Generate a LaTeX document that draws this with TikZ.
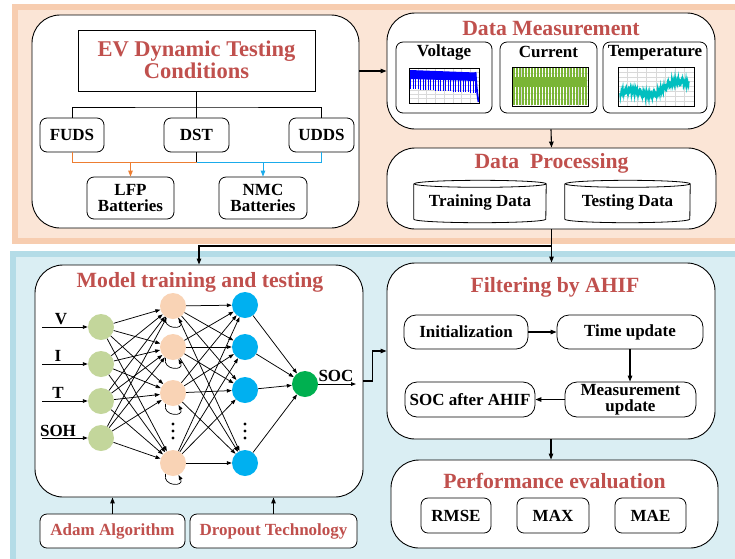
\documentclass[tikz,border=0pt]{standalone}
\usepackage{fontspec}
\setmainfont{Liberation Serif}
\usetikzlibrary{arrows.meta,calc}
\definecolor{titlered}{HTML}{C0504D}
\definecolor{peachfill}{HTML}{FBE5D6}
\definecolor{peachedge}{HTML}{F7CDB0}
\definecolor{bluefill}{HTML}{DAEEF3}
\definecolor{blueedge}{HTML}{B4DCE7}
\definecolor{lorange}{HTML}{ED7D31}
\definecolor{lblue}{HTML}{1AABEB}
\definecolor{ingreen}{HTML}{C3D69B}
\definecolor{hpeach}{HTML}{F9D3B5}
\definecolor{hblue}{HTML}{00B0F0}
\definecolor{outgreen}{HTML}{00B050}
\definecolor{vblue}{HTML}{0000FF}
\definecolor{cgreen}{HTML}{7AB535}
\definecolor{tcyan}{HTML}{00BFBF}
\newcommand\ttlfont{\fontsize{21.7}{22}\selectfont\bfseries}
\newcommand\lblfont{\fontsize{17}{16}\selectfont\bfseries}
\begin{document}
\begin{tikzpicture}[x=1pt,y=-1pt,
 bigbox/.style={draw, fill=white, rounded corners=28pt, line width=0.9pt, inner sep=0pt},
 sbox/.style={draw, fill=white, rounded corners=7pt, line width=0.8pt, inner sep=0pt, font=\lblfont, align=center},
 ttl/.style={font=\ttlfont, text=titlered, inner sep=0pt, align=center},
 lbl/.style={font=\lblfont, inner sep=0pt},
 arr/.style={-{Triangle[length=6pt,width=4.5pt]}, line width=1.1pt},
 nnarr/.style={-{Triangle[length=5pt,width=3.6pt]}, line width=0.75pt},
 neuron/.style={circle, inner sep=0pt, minimum size=26pt},
 plotframe/.style={draw=black, line width=0.8pt},
 gridline/.style={draw=gray!30, line width=0.3pt},
 cyl/.style={draw, fill=white, line width=0.8pt}
]
\useasboundingbox (0,0) rectangle (735,558);
% background panels
\draw[draw=peachedge, line width=6pt, fill=peachfill] (15,7) rectangle (748,241);
\draw[draw=blueedge, line width=6pt, fill=bluefill] (13,254) rectangle (748,568);

% ---------- top left ----------
\node[bigbox, minimum width=327pt, minimum height=213pt] (tl) at (195.5,121.5) {};
\node[draw, fill=white, line width=0.8pt, minimum width=237pt, minimum height=61pt, inner sep=0pt] (ev) at (196.5,60.5) {};
\node[ttl, font=\fontsize{22.5}{22}\selectfont\bfseries] (evt) at (196.5,59.5) {EV Dynamic Testing\\Conditions};
\node[sbox, minimum width=64pt, minimum height=34pt] (fuds) at (72,135) {FUDS};
\node[sbox, minimum width=65pt, minimum height=34pt] (dst) at (196.5,135) {DST};
\node[sbox, minimum width=65pt, minimum height=34pt] (udds) at (321.5,135) {UDDS};
\node[sbox, minimum width=87pt, minimum height=42pt] (lfp) at (130.5,198) {LFP\\Batteries};
\node[sbox, minimum width=88pt, minimum height=42pt] (nmc) at (263,198) {NMC\\Batteries};
\coordinate (evj) at (196.5,107);
\draw[line width=1pt] (ev.south) -- (evj);
\draw[line width=1pt] (fuds.north) |- (evj) -| (udds.north);
\draw[line width=1pt] (evj) -- (dst.north);
\coordinate (bj) at (196.5,162);
\draw[line width=1pt] (dst.south) -- (bj);
\draw[lorange, line width=1pt] (fuds.south) |- (bj);
\draw[lblue, line width=1pt] (bj) -| (udds.south);
\draw[arr, lorange, line width=1pt] (lfp.north |- bj) -- (lfp.north);
\draw[arr, lblue, line width=1pt] (nmc.north |- bj) -- (nmc.north);

% ---------- data measurement ----------
\node[bigbox, minimum width=328pt, minimum height=116pt] (dm) at (551,71) {};
\node[ttl] (dmt) at (551,29) {Data Measurement};
\node[sbox, minimum width=96pt, minimum height=71pt] (vbox) at (444,77.5) {};
\node[sbox, minimum width=97pt, minimum height=71pt] (cbox) at (548.5,77.5) {};
\node[sbox, minimum width=104pt, minimum height=71pt] (tbox) at (655,77.5) {};
\node[lbl] (vl) at (444,52) {Voltage};
\node[lbl] (cl) at (548.5,52) {Current};
\node[lbl] (tml) at (655,53) {Temperature};
\draw[arr] (dm.west -| tl.east) -- (dm.west);

% voltage plot
\fill[white] (409,68) rectangle (479,103);
\foreach \k in {1,...,7} {\draw[gridline] ({409+\k*8.75},68) -- ({409+\k*8.75},103);}
\foreach \k in {1,...,7} {\draw[gridline] (409,{68+\k*4.375}) -- (479,{68+\k*4.375});}
\fill[vblue] (410,70) -- (476,72.5) -- (476,81) -- (410,79) -- cycle;
\foreach \k in {0,...,26} {\draw[vblue, line width=1.3pt] ({410.8+\k*2.5},{71+\k*0.09}) -- ++(0,{18+\k*0.06});}
\draw[vblue, line width=1.8pt] (475.5,72) -- (476.5,86) -- (477.5,95) -- (478.5,102);
\draw[plotframe] (409,68) rectangle (479,103);
% current plot
\fill[white] (512,67) rectangle (588,106);
\foreach \k in {1,...,7} {\draw[gridline] ({512+\k*9.5},67) -- ({512+\k*9.5},106);}
\foreach \k in {1,...,5} {\draw[gridline] (512,{67+\k*6.5}) -- (588,{67+\k*6.5});}
\fill[cgreen] (513,77) rectangle (587,87);
\foreach \k in {0,...,24} {\draw[cgreen, line width=1.6pt] ({514+\k*3},68) -- ++(0,37);}
\draw[plotframe] (512,67) rectangle (588,106);
% temperature plot
\fill[white] (618,67) rectangle (694,106);
\foreach \k in {1,...,7} {\draw[gridline] ({618+\k*9.5},67) -- ({618+\k*9.5},106);}
\foreach \k in {1,...,7} {\draw[gridline] (618,{67+\k*4.875}) -- (694,{67+\k*4.875});}
\draw[tcyan, line width=1.5pt] plot[domain=0:1, samples=170] ({620+69*\x}, {93 - 12/(1+exp(-(\x-0.7)*12)) - 2.5*sin(\x*600) + 3.2*sin(\x*15700) + 1.8*sin(\x*7100)});
\draw[plotframe] (618,67) rectangle (694,106);

% ---------- data processing ----------
\node[bigbox, minimum width=329pt, minimum height=81pt] (dp) at (551.5,188.5) {};
\node[ttl] (dpt) at (551.5,163) {Data\ \ Processing};
\node[minimum width=132pt, minimum height=35pt, inner sep=0pt] (trc) at (480,201.5) {};
\node[minimum width=125pt, minimum height=35pt, inner sep=0pt] (tsc) at (627.5,201.5) {};
\draw[cyl] (trc.north west) -- (trc.south west) arc[start angle=180, end angle=360, x radius=66pt, y radius=3.5pt] -- (trc.north east) arc[start angle=0, end angle=360, x radius=66pt, y radius=3.5pt];
\draw[cyl] (tsc.north west) -- (tsc.south west) arc[start angle=180, end angle=360, x radius=62.5pt, y radius=3.5pt] -- (tsc.north east) arc[start angle=0, end angle=360, x radius=62.5pt, y radius=3.5pt];
\node[lbl] (trl) at (480,202) {Training Data};
\node[lbl] (tsl) at (627.5,202) {Testing Data};
\draw[arr] (dm.south) -- (dp.north);

% ---------- model training ----------
\node[bigbox, minimum width=328pt, minimum height=232pt] (model) at (199,381) {};
\node[ttl] (modelt) at (200,282) {Model training and testing};
\node[sbox, minimum width=145pt, minimum height=34pt, text=titlered] (adam) at (112.5,531) {Adam Algorithm};
\node[sbox, minimum width=167pt, minimum height=34pt, text=titlered] (drop) at (273.5,531) {Dropout Technology};
\draw[arr] (adam.north) -- (adam.north |- model.south);
\draw[arr] (drop.north) -- (drop.north |- model.south);

% neural network
\node[neuron, fill=ingreen] (i1) at (101,327) {};
\node[neuron, fill=ingreen] (i2) at (101,364) {};
\node[neuron, fill=ingreen] (i3) at (101,401) {};
\node[neuron, fill=ingreen] (i4) at (101,438) {};
\node[neuron, fill=hpeach] (a1) at (173,306) {};
\node[neuron, fill=hpeach] (a2) at (173,347) {};
\node[neuron, fill=hpeach] (a3) at (173,393) {};
\node[neuron, fill=hpeach] (a4) at (173,463) {};
\node[neuron, fill=hblue] (b1) at (245,305) {};
\node[neuron, fill=hblue] (b2) at (245,347) {};
\node[neuron, fill=hblue] (b3) at (245,390) {};
\node[neuron, fill=hblue] (b4) at (245,463) {};
\node[neuron, fill=outgreen] (o) at (305,384) {};
\foreach \i in {1,...,4} {
  \foreach \j in {1,...,4} {
    \draw[nnarr] (i\i) -- (a\j);
    \draw[nnarr] (a\i) -- (b\j);
  }
  \draw[nnarr] (b\i) -- (o);
  \draw[nnarr, line width=0.7pt] (a\i.235) .. controls +(-3,13) and +(6,12) .. (a\i.295);
}
\foreach \yy in {424,431,438} {
  \fill (173,\yy) circle (1.6pt);
  \fill (245,\yy) circle (1.6pt);
}
\coordinate (s1) at (42,327);
\coordinate (s2) at (42,364);
\coordinate (s3) at (42,401);
\coordinate (s4) at (42,438);
\foreach \i in {1,...,4} {\draw[nnarr, line width=0.9pt] (s\i) -- (i\i);}
\node[lbl] (vt) at (61,319) {V};
\node[lbl] (it) at (58,356) {I};
\node[lbl] (tt) at (58,393) {T};
\node[lbl] (soh) at (58,431) {SOH};
\coordinate (socend) at (356,384);
\draw[nnarr, line width=0.9pt] (o) -- (socend);
\node[lbl] (soct) at (336,376) {SOC};

% ---------- filtering ----------
\node[bigbox, minimum width=328pt, minimum height=176pt] (filt) at (551,351) {};
\node[ttl] (filtt) at (555,287) {Filtering by AHIF};
\node[sbox, rounded corners=12pt, minimum width=124pt, minimum height=34pt] (init) at (466,332) {Initialization};
\node[sbox, rounded corners=12pt, minimum width=146pt, minimum height=34pt] (time) at (630,332) {Time update};
\node[sbox, rounded corners=12pt, minimum width=131pt, minimum height=35pt] (meas) at (630.5,399.5) {Measurement\\update};
\node[sbox, rounded corners=12pt, minimum width=130pt, minimum height=35pt] (socaf) at (470,399.5) {SOC after AHIF};
\draw[arr] (init) -- (time);
\draw[arr] (time.south) -- (time.south |- meas.north);
\draw[arr] (meas) -- (socaf);
\draw[arr] (model.east) -- ++(9,0) |- (filt.west);

% ---------- DP -> model & filtering ----------
\coordinate (dpj) at (551.5,246);
\draw[arr] (dp.south) -- (dp.south |- filt.north);
\draw[arr] (dpj) -| (model.north);

% ---------- performance ----------
\node[bigbox, minimum width=327pt, minimum height=88pt] (perf) at (554.5,504) {};
\node[ttl] (perft) at (554.5,481) {Performance evaluation};
\node[sbox, minimum width=70pt, minimum height=35pt] (rmse) at (456,515.5) {RMSE};
\node[sbox, minimum width=72pt, minimum height=35pt] (max) at (553,515.5) {MAX};
\node[sbox, minimum width=71pt, minimum height=35pt] (mae) at (650.5,515.5) {MAE};
\draw[arr] (filt.south) -- (filt.south |- perf.north);
\end{tikzpicture}
\end{document}
